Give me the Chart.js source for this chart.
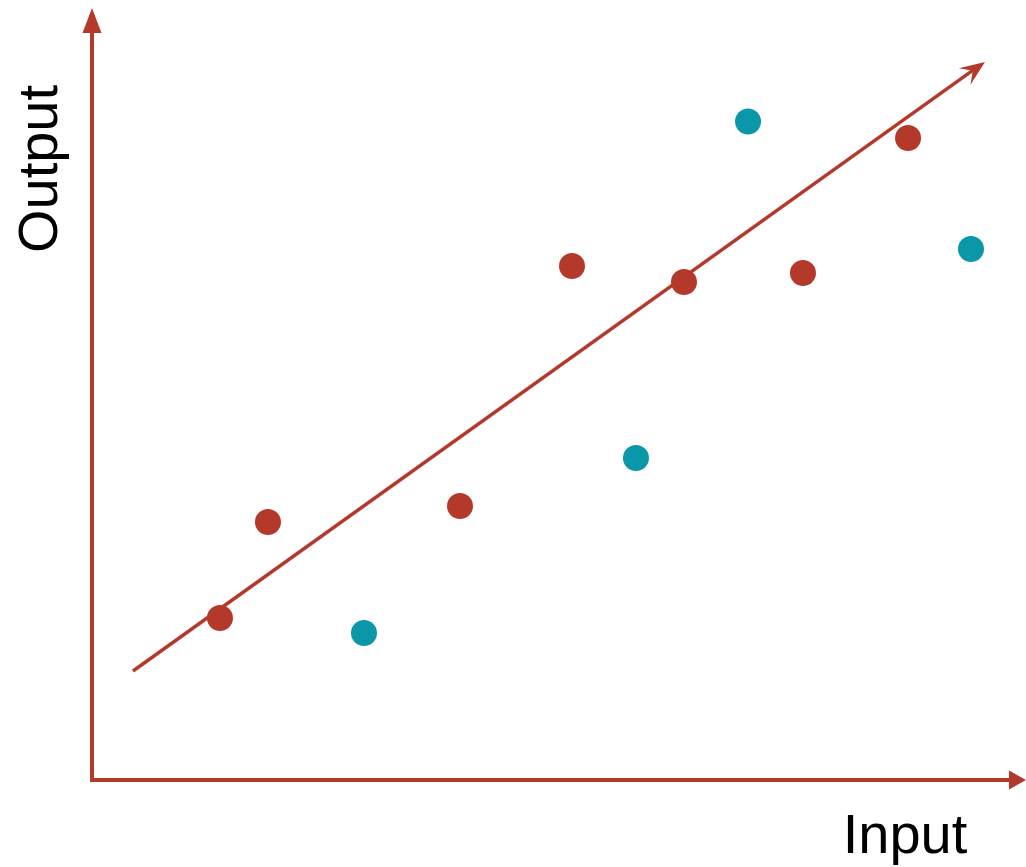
<!DOCTYPE html>
<html>
<head>
<meta charset="utf-8">
<script src="https://cdn.jsdelivr.net/npm/chart.js"></script>
<style>
html,body{margin:0;padding:0;background:#fff;}
#wrap{width:1026px;height:867px;position:relative;}
</style>
</head>
<body>
<div id="wrap"><canvas id="c" width="1026" height="867"></canvas></div>
<script>
const redX = [13.70, 18.84, 39.40, 51.39, 63.38, 76.12, 87.37];
const redY = [20.98, 33.42, 35.49, 66.58, 64.51, 65.67, 83.16];
const tealX = [29.12, 58.24, 70.24, 94.11];
const tealY = [19.04, 41.71, 85.30, 68.78];
const fitX = [4.39, 95.61];
const fitY = [14.12, 93.01];
const xLabel = "Input";
const yLabel = "Output";

const RED = "#b5392b";
const TEAL = "#0a97a8";

const pts = (xs, ys) => xs.map((x, i) => ({x: x, y: ys[i]}));

const decor = {
  id: 'decor',
  beforeDatasetsDraw(chart) {
    const ctx = chart.ctx;
    const xs = chart.scales.x, ys = chart.scales.y;
    const x0 = xs.getPixelForValue(0), y0 = ys.getPixelForValue(0);
    const yTop = ys.getPixelForValue(100), xRight = xs.getPixelForValue(100);
    ctx.save();
    ctx.strokeStyle = RED; ctx.fillStyle = RED; ctx.lineWidth = 4;
    ctx.beginPath();
    ctx.moveTo(x0, yTop + 20); ctx.lineTo(x0, y0);
    ctx.lineTo(xRight - 12, y0);
    ctx.stroke();
    // y arrow
    ctx.beginPath();
    ctx.moveTo(x0, yTop); ctx.lineTo(x0 + 9.5, yTop + 25); ctx.lineTo(x0 - 9.5, yTop + 25); ctx.closePath(); ctx.fill();
    // x arrow
    ctx.beginPath();
    ctx.moveTo(xRight, y0); ctx.lineTo(xRight - 17, y0 - 9.5); ctx.lineTo(xRight - 17, y0 + 9.5); ctx.closePath(); ctx.fill();
    // trend arrow head (stealth)
    const tx = xs.getPixelForValue(fitX[1]), ty = ys.getPixelForValue(fitY[1]);
    const sx = xs.getPixelForValue(fitX[0]), sy = ys.getPixelForValue(fitY[0]);
    const a = Math.atan2(ty - sy, tx - sx);
    ctx.translate(tx, ty); ctx.rotate(a);
    ctx.beginPath();
    ctx.moveTo(0, 0); ctx.lineTo(-25, -10); ctx.lineTo(-15, 0); ctx.lineTo(-25, 10); ctx.closePath(); ctx.fill();
    ctx.restore();
    // labels
    ctx.save();
    ctx.fillStyle = "#000";
    ctx.font = '56px "Liberation Sans", Arial, sans-serif';
    ctx.textAlign = 'center'; ctx.textBaseline = 'alphabetic';
    ctx.fillText(xLabel, 905, 853);
    ctx.translate(57, 169); ctx.rotate(-Math.PI / 2);
    ctx.fillText(yLabel, 0, 0);
    ctx.restore();
  }
};

new Chart(document.getElementById('c'), {
  type: 'scatter',
  data: {
    datasets: [
      {label: 'fit', type: 'line', data: pts([fitX[0], fitX[1] - 1.2], [fitY[0], fitY[1] - 1.0]), borderColor: RED, borderWidth: 3.4, pointRadius: 0, fill: false, clip: false, order: 2},
      {label: 'red', data: pts(redX, redY), backgroundColor: RED, borderWidth: 0, pointRadius: 13, pointHoverRadius: 13, clip: false, order: 1},
      {label: 'teal', data: pts(tealX, tealY), backgroundColor: TEAL, borderWidth: 0, pointRadius: 13, pointHoverRadius: 13, clip: false, order: 1}
    ]
  },
  options: {
    responsive: false, animation: false,
    layout: {autoPadding: false, padding: {left: 92, right: 0, top: 8, bottom: 87}},
    plugins: {legend: {display: false}, tooltip: {enabled: false}},
    scales: {
      x: {type: 'linear', min: 0, max: 100, display: false},
      y: {type: 'linear', min: 0, max: 100, display: false}
    }
  },
  plugins: [decor]
});
</script>
</body>
</html>
